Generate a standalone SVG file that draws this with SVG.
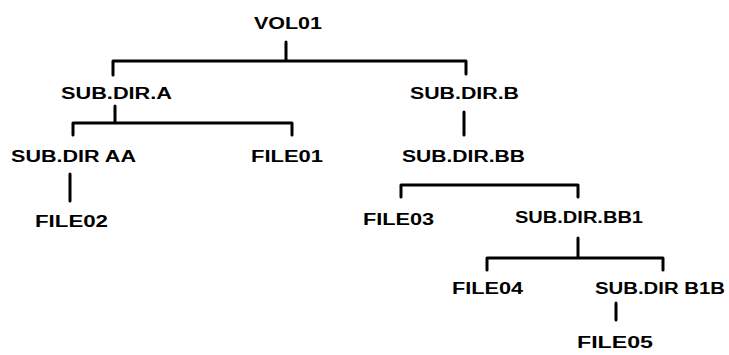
<svg xmlns="http://www.w3.org/2000/svg" width="729" height="355" viewBox="0 0 729 355">
<style>
.t{font-family:"Liberation Sans",Arial,sans-serif;font-weight:bold;font-size:16px;fill:#000}
.c{fill:none;stroke:#000;stroke-width:3;stroke-linejoin:round;stroke-linecap:round}
</style>
<rect width="729" height="355" fill="#fff"/>
<g id="connectors">
<path class="c" d="M286 42V61M113 75V61H466V74"/>
<path class="c" d="M115 106V123M73 135V123H292V135"/>
<path class="c" d="M464 112V135"/>
<path class="c" d="M70 174V201"/>
<path class="c" d="M401 197V185H578V197"/>
<path class="c" d="M578 238V258M487 270V258H663V270"/>
<path class="c" d="M616 303V320"/>
</g>
<g id="vol01"><text class="t" x="254" y="29" textLength="68" lengthAdjust="spacingAndGlyphs">VOL01</text></g>
<g id="subdira"><text class="t" x="61" y="99" textLength="111" lengthAdjust="spacingAndGlyphs">SUB.DIR.A</text></g>
<g id="subdirb"><text class="t" x="410" y="99" textLength="109" lengthAdjust="spacingAndGlyphs">SUB.DIR.B</text></g>
<g id="subdiraa"><text class="t" x="11" y="162" textLength="125" lengthAdjust="spacingAndGlyphs">SUB.DIR AA</text></g>
<g id="file01"><text class="t" x="251" y="162" textLength="72" lengthAdjust="spacingAndGlyphs">FILE01</text></g>
<g id="subdirbb"><text class="t" x="402" y="162" textLength="123" lengthAdjust="spacingAndGlyphs">SUB.DIR.BB</text></g>
<g id="file02"><text class="t" x="35" y="227" textLength="73" lengthAdjust="spacingAndGlyphs">FILE02</text></g>
<g id="file03"><text class="t" x="363" y="225" textLength="71" lengthAdjust="spacingAndGlyphs">FILE03</text></g>
<g id="subdirbb1"><text class="t" x="515" y="223" textLength="128" lengthAdjust="spacingAndGlyphs">SUB.DIR.BB1</text></g>
<g id="file04"><text class="t" x="452" y="294" textLength="71" lengthAdjust="spacingAndGlyphs">FILE04</text></g>
<g id="subdirb1b"><text class="t" x="595" y="294" textLength="130" lengthAdjust="spacingAndGlyphs">SUB.DIR B1B</text></g>
<g id="file05"><text class="t" x="577" y="348" textLength="76" lengthAdjust="spacingAndGlyphs">FILE05</text></g>
</svg>
